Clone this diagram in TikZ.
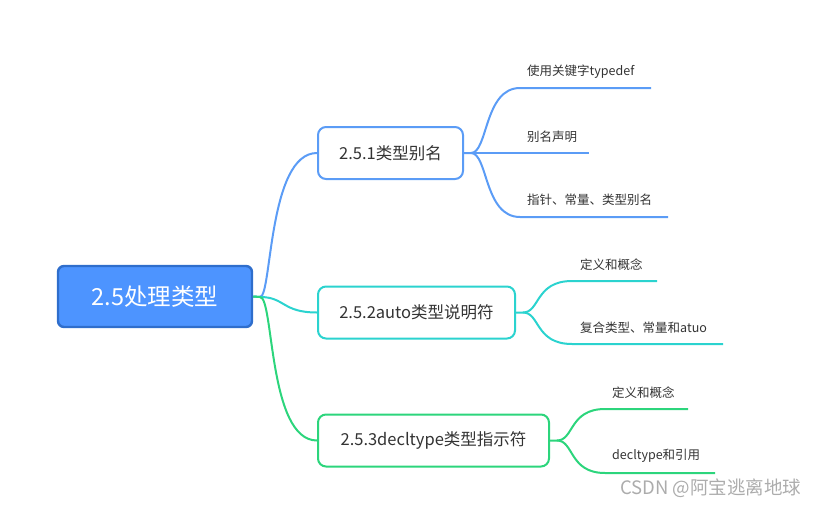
\documentclass[tikz,border=0pt]{standalone}
\usepackage{fontspec}
\setmainfont{Noto Sans CJK SC}
\definecolor{rootfill}{HTML}{4D94FF}
\definecolor{rootdraw}{HTML}{2F6ECC}
\definecolor{cblue}{HTML}{5B9CF6}
\definecolor{ccyan}{HTML}{2BD3CF}
\definecolor{cgreen}{HTML}{2CD57C}
\definecolor{ctext}{HTML}{333333}
\tikzset{
  rootbox/.style={draw=rootdraw, fill=rootfill, line width=2.4pt, rounded corners=6pt, text=white, font=\fontsize{23.5}{26}\selectfont, minimum width=194pt, minimum height=61pt, inner sep=0pt},
  subbox/.style={fill=white, line width=2pt, rounded corners=8pt, text=ctext, font=\fontsize{16.5}{20}\selectfont, minimum height=52pt, inner sep=0pt},
  leaf/.style={text=ctext, font=\fontsize{12.5}{15}\selectfont, anchor=west, inner sep=0pt},
  branch/.style={line width=2pt},
  wmark/.style={text=gray!65, font=\fontsize{18.5}{22}\selectfont, anchor=west, inner sep=0pt}
}
\begin{document}
\begin{tikzpicture}[x=1pt,y=-1pt]
\useasboundingbox (0,0) rectangle (827,506);
% root
\node[rootbox] (root) at (155,296.5) {2.5处理类型};
\coordinate (rj) at (260,297);
% sub nodes
\node[subbox, draw=cblue, minimum width=145pt] (b1) at (390.5,153) {2.5.1类型别名};
\node[subbox, draw=ccyan, minimum width=197pt] (b2) at (416.5,312.5) {2.5.2auto类型说明符};
\node[subbox, draw=cgreen, minimum width=231pt] (b3) at (433.5,440.5) {2.5.3decltype类型指示符};
% root connectors
\draw[branch, cblue] (root.east) -- (rj) .. controls (272,297) and (268,153) .. (b1.west);
\draw[branch, ccyan] (root.east) -- (rj) .. controls (285,297) and (282,312.5) .. (b2.west);
\draw[branch, cgreen] (root.east) -- (rj) .. controls (274,297) and (268,440.5) .. (b3.west);
% leaves of b1
\coordinate (j1) at (471,153);
\node[leaf] (l11) at (527,72) {使用关键字typedef};
\node[leaf] (l12) at (527,137) {别名声明};
\node[leaf] (l13) at (527,200) {指针、常量、类型别名};
\coordinate (e11) at (651,88);
\coordinate (e12) at (589,153);
\coordinate (e13) at (668,217);
\draw[branch, cblue] (b1.east) -- (j1) .. controls (488,153) and (484,88) .. (520,88) -- (e11);
\draw[branch, cblue] (b1.east) -- (e12);
\draw[branch, cblue] (j1) .. controls (488,153) and (484,217) .. (520,217) -- (e13);
% leaves of b2
\coordinate (j2) at (523,312.5);
\node[leaf] (l21) at (580,265) {定义和概念};
\node[leaf] (l22) at (580,328) {复合类型、常量和atuo};
\coordinate (e21) at (657,281);
\coordinate (e22) at (723,344);
\draw[branch, ccyan] (b2.east) -- (j2) .. controls (540,312.5) and (535,281) .. (572,281) -- (e21);
\draw[branch, ccyan] (j2) .. controls (540,312.5) and (535,344) .. (572,344) -- (e22);
% leaves of b3
\coordinate (j3) at (557,440.5);
\node[leaf] (l31) at (612,393) {定义和概念};
\node[leaf] (l32) at (612,456) {decltype和引用};
\coordinate (e31) at (688,409);
\coordinate (e32) at (715,473);
\draw[branch, cgreen] (b3.east) -- (j3) .. controls (574,440.5) and (569,409) .. (605,409) -- (e31);
\draw[branch, cgreen] (j3) .. controls (574,440.5) and (569,473) .. (605,473) -- (e32);
% watermark
\node[wmark] (wm) at (620,488) {CSDN @阿宝逃离地球};
\end{tikzpicture}
\end{document}
